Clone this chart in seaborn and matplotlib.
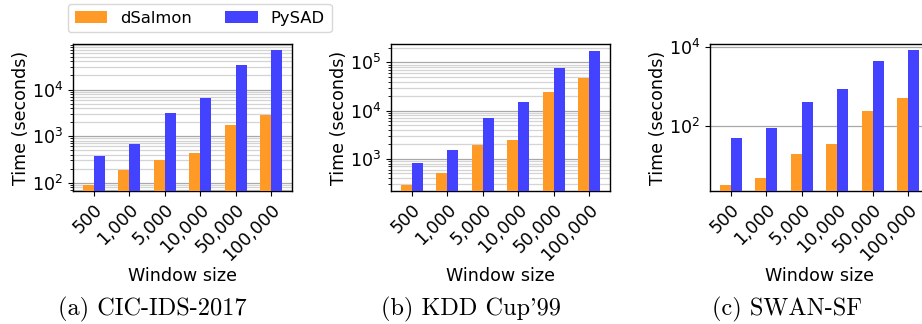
import numpy as np
import pandas as pd
import matplotlib
matplotlib.use("Agg")
import matplotlib.pyplot as plt
import matplotlib.ticker as mticker
from matplotlib.patches import Patch
import seaborn as sns

# ---- data ----
window_sizes = ["500", "1,000", "5,000", "10,000", "50,000", "100,000"]
methods = ["dSalmon", "PySAD"]

cic_dsalmon = [91, 182, 300, 425, 1700, 2850]
cic_pysad = [366, 665, 3100, 6530, 34000, 72000]

kdd_dsalmon = [290, 510, 1980, 2480, 24400, 47700]
kdd_pysad = [826, 1540, 7060, 15100, 77000, 175000]

swan_dsalmon = [3.3, 4.8, 20, 35, 236, 517]
swan_pysad = [50, 90, 410, 836, 4240, 8200]

captions = ["(a) CIC-IDS-2017", "(b) KDD Cup'99", "(c) SWAN-SF"]

colors = {"dSalmon": "#ff9a26", "PySAD": "#4343ff"}

datasets = [(cic_dsalmon, cic_pysad), (kdd_dsalmon, kdd_pysad), (swan_dsalmon, swan_pysad)]
ylims = [(66, 9.5e4), (217, 2.4e5), (2.3, 1.17e4)]

W, H = 922, 324
fig = plt.figure(figsize=(W / 100, H / 100), dpi=100)
fs = 12.6
plt.rcParams["font.family"] = ["DejaVu Sans"]

lefts = [73, 391, 710]
cap_x = [152, 471, 787]
for i, ((ds, ps), left) in enumerate(zip(datasets, lefts)):
    ax = fig.add_axes([left / W, 1 - 191 / H, 219 / W, 147 / H])
    df = pd.DataFrame({
        "Window size": window_sizes * 2,
        "Method": [methods[0]] * len(window_sizes) + [methods[1]] * len(window_sizes),
        "Time": list(ds) + list(ps),
    })
    ax.set_yscale("log")
    sns.barplot(data=df, x="Window size", y="Time", hue="Method",
                palette=colors, width=0.62, ax=ax, legend=False,
                saturation=1, errorbar=None, zorder=3)
    ax.set_xlim(-0.58, 5.58)
    ax.set_ylim(*ylims[i])
    if i == 2:
        ax.yaxis.set_major_locator(mticker.FixedLocator([1e2, 1e4]))
        ax.yaxis.set_minor_locator(mticker.NullLocator())
    else:
        ax.yaxis.set_major_locator(mticker.LogLocator(base=10))
        ax.yaxis.set_minor_locator(mticker.LogLocator(base=10, subs=np.arange(2, 10)))
    ax.yaxis.set_major_formatter(mticker.LogFormatterSciNotation())
    ax.yaxis.set_minor_formatter(mticker.NullFormatter())
    ax.grid(True, which="major", axis="y", color="#a8a8a8", lw=0.9, zorder=0)
    ax.grid(True, which="minor", axis="y", color="#d4d4d4", lw=0.9, zorder=0)
    ax.set_axisbelow(True)
    ax.set_xlabel("Window size", fontsize=fs, labelpad=1.5)
    ax.set_ylabel("Time (seconds)", fontsize=fs, labelpad=1.5)
    ax.tick_params(axis="both", labelsize=fs)
    for lab in ax.get_xticklabels():
        lab.set_rotation(45)
        lab.set_ha("right")
        lab.set_rotation_mode("anchor")
    for sp in ax.spines.values():
        sp.set_color("black")
        sp.set_linewidth(1.0)
    fig.text(cap_x[i] / W, 1 - 309 / H, captions[i], ha="center", va="center",
             fontsize=17.5, family=["cmr10", "DejaVu Serif"])

handles = [Patch(facecolor=colors[m], label=m) for m in methods]
fig.legend(handles=handles, loc="upper left", bbox_to_anchor=(68 / W, 1 - 4 / H),
           ncol=2, fontsize=11.8, frameon=True, fancybox=True,
           edgecolor="#d8d8d8", framealpha=1, borderaxespad=0)

fig.savefig("out.png", dpi=100)
